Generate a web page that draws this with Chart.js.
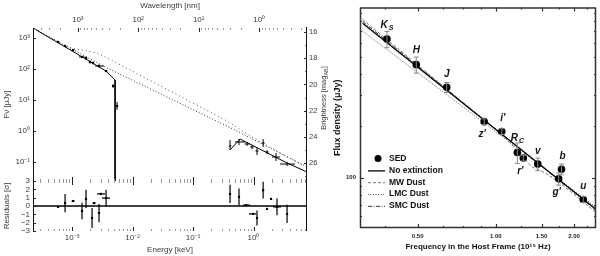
<!DOCTYPE html>
<html><head><meta charset="utf-8">
<script src="https://cdn.jsdelivr.net/npm/chart.js@4.4.1/dist/chart.umd.min.js"></script>
<style>
html,body{margin:0;padding:0;background:#fff;width:600px;height:256px;overflow:hidden;}
.w{position:absolute;top:0;}
</style></head><body>
<div class="w" style="left:0;width:328px;height:256px"><canvas id="cA" width="328" height="256"></canvas></div>
<div class="w" style="left:0;width:328px;height:256px"><canvas id="cB" width="328" height="256"></canvas></div>
<div class="w" style="left:300px;width:300px;height:256px"><canvas id="cC" width="300" height="256"></canvas></div>
<script>
// ---------- Left panel: afterglow SED (energy keV, flux density μJy) ----------
const optEnergy   = [5.87e-4, 7.66e-4, 1.04e-3, 1.46e-3, 1.70e-3, 1.98e-3, 2.22e-3, 2.79e-3, 3.65e-3, 4.76e-3, 5.55e-3];
const optEnergyLo = [5.6e-4, 7.3e-4, 0.99e-3, 1.30e-3, 1.62e-3, 1.89e-3, 2.12e-3, 2.40e-3, 3.48e-3, 4.6e-3, 5.4e-3];
const optEnergyHi = [6.1e-4, 8.0e-4, 1.09e-3, 1.62e-3, 1.78e-3, 2.07e-3, 2.32e-3, 3.38e-3, 3.82e-3, 4.9e-3, 5.7e-3];
const optFlux     = [743, 552, 410, 244, 226, 168, 156, 125, 86, 28.3, 6.4];
const optFluxLo   = [690, 505, 385, 225, 205, 150, 140, 112, 80, 25, 4.8];
const optFluxHi   = [800, 600, 435, 265, 250, 188, 174, 140, 93, 32, 8.6];

const xrEnergy   = [0.409, 0.575, 0.782, 0.944, 1.14, 1.44, 1.67, 2.35, 3.58];
const xrEnergyLo = [0.39, 0.494, 0.711, 0.88, 1.08, 1.36, 1.58, 2.02, 2.74];
const xrEnergyHi = [0.43, 0.724, 0.86, 1.01, 1.21, 1.53, 1.77, 2.73, 4.85];
const xrFlux     = [0.328, 0.442, 0.381, 0.305, 0.226, 0.41, 0.21, 0.145, 0.086];
const xrFluxLo   = [0.245, 0.354, 0.33, 0.26, 0.168, 0.305, 0.18, 0.108, 0.074];
const xrFluxHi   = [0.513, 0.553, 0.44, 0.35, 0.304, 0.55, 0.24, 0.196, 0.10];

const modelOptEnergy = [2.26e-4, 3.65e-3, 5.14e-3, 5.14e-3];
const modelOptFlux   = [2100, 86, 44.2, 0.0244];
const modelXrEnergy  = [0.409, 0.598, 3.58, 7.65];
const modelXrFlux    = [0.244, 0.552, 0.093, 0.0475];
const unabs1Energy   = [2.26e-4, 3.79e-3, 0.533, 7.65];
const unabs1Flux     = [2100, 108, 1.0, 0.069];
const unabs2Energy   = [7.96e-4, 2.59e-3, 4.76e-3, 0.365, 0.944, 6.34];
const unabs2Flux     = [513, 328, 181, 2.1, 0.64, 0.080];

const resOptEnergy   = [5.87e-4, 7.66e-4, 1.04e-3, 1.46e-3, 1.70e-3, 2.14e-3, 2.31e-3, 2.79e-3, 3.0e-3, 3.65e-3];
const resOptEnergyLo = [5.6e-4, 7.4e-4, 0.98e-3, 1.41e-3, 1.64e-3, 2.07e-3, 2.18e-3, 2.70e-3, 2.59e-3, 3.13e-3];
const resOptEnergyHi = [6.1e-4, 7.9e-4, 1.10e-3, 1.51e-3, 1.76e-3, 2.21e-3, 2.45e-3, 2.88e-3, 3.51e-3, 4.25e-3];
const resOpt         = [-0.1, 0.35, 0.6, -0.6, 0.85, -1.45, 0.35, -0.85, 1.45, 0.95];
const resOptErr      = [0.1, 1.1, 0.1, 1.0, 1.1, 1.2, 0.1, 1.1, 0.1, 1.0];

const resXrEnergy   = [0.409, 0.575, 0.752, 0.98, 1.14, 1.44, 1.67, 1.95, 2.44, 3.58];
const resXrEnergyLo = [0.395, 0.555, 0.67, 0.84, 1.10, 1.39, 1.61, 1.88, 2.10, 3.45];
const resXrEnergyHi = [0.424, 0.595, 0.88, 1.10, 1.18, 1.49, 1.73, 2.02, 2.85, 3.71];
const resXr         = [1.45, 1.1, 0.1, -0.95, -1.45, 1.9, -0.35, 0.85, -0.1, -0.95];
const resXrErr      = [1.1, 1.0, 0.1, 0.1, 0.9, 1.0, 0.1, 0.1, 1.0, 1.1];

const energyTicks = [1e-3, 1e-2, 1e-1, 1];
const energyTickLabels = ['10\u207B\u00B3', '10\u207B\u00B2', '10\u207B\u00B9', '10\u2070'];
const wlTicks = [1000, 100, 10, 1];
const wlTickLabels = ['10\u00B3', '10\u00B2', '10\u00B9', '10\u2070'];
const fluxTicks = [0.1, 1, 10, 100, 1000];
const fluxTickLabels = ['10\u207B\u00B9', '10\u2070', '10\u00B9', '10\u00B2', '10\u00B3'];
const magTicks = [16, 18, 20, 22, 24, 26];
const magMinor = [17, 19, 21, 23, 25, 27];
const resTicks = [-3, -2, -1, 0, 1, 2, 3];
const resTickLabels = ['\u22123', '\u22122', '\u22121', '0', '1', '2', '3'];
const zeroLineEnergy = [2.26e-4, 7.65];
const zeroLineRes = [0, 0];

// ---------- Right panel: host-frame SED ----------
const bandNames = ["K", "H", "J", "z'", "i'", "R", "r'", "v", "b", "g'", "u"];
const bandSubs  = ["S", "", "", "", "", "C", "", "", "", "", ""];
const sedFreq = [0.381, 0.494, 0.647, 0.902, 1.054, 1.21, 1.276, 1.45, 1.79, 1.745, 2.17];
const sedFlux = [632, 450, 333, 211, 185, 140, 130, 120, 112, 98.7, 75];
const sedErr  = [68, 48, 22, 8, 7, 19, 5, 10, 8, 8, 3];
const noExtFreq = [0.307, 2.43];
const noExtFlux = [780, 65.8];
const mwFreq = [0.307, 1.081, 1.232, 1.379, 1.544, 1.744, 2.426];
const mwFlux = [822, 172, 139, 115.5, 106.8, 94.9, 63.3];
const lmcFreq = [0.307, 2.43];
const lmcFlux = [703, 67.5];
const smcFreq = [0.307, 2.43];
const smcFlux = [800, 64.9];
const freqTicks = [0.5, 1.0, 1.5, 2.0];
const freqTickLabels = ['0.50', '1.00', '1.50', '2.00'];
const freqMinor = [0.375, 0.625, 0.75, 0.875, 1.25, 1.75, 2.25];
const sedFluxTicks = [100];
const sedFluxTickLabels = ['100'];
const sedFluxMinor = [60, 70, 80, 90, 200, 300, 400, 500, 600, 700, 800, 900];

// ---------- layout / style (not data) ----------
const bandLabelOffsets = [[0,-14],[0,-14],[0,-13],[-2,13],[1,-13],[0,-14],[-3,13],[0,-13],[1,-13],[-2,13],[0,-13]];
const HC = 1.2398; // keV·nm
const E_MIN = 2.26e-4, E_MAX = 7.65;
const FONT = "'Liberation Sans', Arial, sans-serif";
const NARROW = "'Liberation Sans Narrow', 'Liberation Sans', Arial, sans-serif";
const LC = '#3a3a3a';

function pts(xs, ys) { return xs.map((x, i) => ({ x: x, y: ys[i] })); }
function logMinors(lo, hi) {
  const out = [];
  for (let k = Math.floor(Math.log10(lo)) - 1; k <= Math.ceil(Math.log10(hi)); k++) {
    for (let m = 2; m <= 9; m++) { const v = m * Math.pow(10, k); if (v > lo && v < hi) out.push(v); }
  }
  return out;
}

const errorBars = {
  id: 'errorBars',
  afterDatasetsDraw(chart) {
    const ctx = chart.ctx;
    chart.data.datasets.forEach((ds, di) => {
      const e = ds.err; if (!e) return;
      const meta = chart.getDatasetMeta(di);
      const xs = chart.scales[meta.xAxisID], ys = chart.scales[meta.yAxisID];
      ctx.save(); ctx.strokeStyle = e.color; ctx.lineWidth = e.width;
      ds.data.forEach((p, i) => {
        const px = xs.getPixelForValue(p.x), py = ys.getPixelForValue(p.y);
        ctx.beginPath();
        if (e.yLo && e.yLo[i] != null) {
          const a = ys.getPixelForValue(e.yLo[i]), b = ys.getPixelForValue(e.yHi[i]);
          ctx.moveTo(px, a); ctx.lineTo(px, b);
          if (e.cap) { ctx.moveTo(px - e.cap, a); ctx.lineTo(px + e.cap, a); ctx.moveTo(px - e.cap, b); ctx.lineTo(px + e.cap, b); }
        }
        if (e.xLo && e.xLo[i] != null) {
          const a = xs.getPixelForValue(e.xLo[i]), b = xs.getPixelForValue(e.xHi[i]);
          ctx.moveTo(a, py); ctx.lineTo(b, py);
        }
        ctx.stroke();
      });
      ctx.restore();
    });
  }
};

const innerTicks = {
  id: 'innerTicks',
  afterDraw(chart, args, opts) {
    const ctx = chart.ctx, ca = chart.chartArea;
    (opts.items || []).forEach(it => {
      const s = chart.scales[it.scale];
      const draw = (vals, len, color) => {
        ctx.save(); ctx.strokeStyle = color; ctx.lineWidth = it.width || 1;
        ctx.beginPath();
        vals.forEach(v => {
          let p = s.getPixelForValue(v);
          if (it.edge === 'bottom' || it.edge === 'top') {
            if (p < ca.left - 0.5 || p > ca.right + 0.5) return;
            p = Math.round(p) + 0.5;
            const y0 = it.edge === 'bottom' ? ca.bottom : ca.top;
            const dir = it.edge === 'bottom' ? -1 : 1;
            ctx.moveTo(p, y0); ctx.lineTo(p, y0 + dir * len);
          } else {
            if (p < ca.top - 0.5 || p > ca.bottom + 0.5) return;
            p = Math.round(p) + 0.5;
            const x0 = it.edge === 'left' ? ca.left : ca.right;
            const dir = it.edge === 'left' ? 1 : -1;
            ctx.moveTo(x0, p); ctx.lineTo(x0 + dir * len, p);
          }
        });
        ctx.stroke(); ctx.restore();
      };
      draw(it.major || [], it.majorLen || 4, it.color || '#000');
      draw(it.minor || [], it.minorLen || 2, it.minorColor || it.color || '#000');
    });
  }
};

const frame = {
  id: 'frame',
  afterDraw(chart, args, opts) {
    const ctx = chart.ctx, ca = chart.chartArea;
    ctx.save(); ctx.strokeStyle = opts.color || '#000'; ctx.lineWidth = opts.width || 1;
    ctx.beginPath();
    (opts.sides || []).forEach(sd => {
      if (sd === 'left') { ctx.moveTo(ca.left + 0.5, ca.top); ctx.lineTo(ca.left + 0.5, ca.bottom); }
      if (sd === 'right') { ctx.moveTo(ca.right - 0.5, ca.top - (opts.extendTop || 0)); ctx.lineTo(ca.right - 0.5, ca.bottom); }
      if (sd === 'top') { ctx.moveTo(ca.left, ca.top + 0.5); ctx.lineTo(ca.right, ca.top + 0.5); }
      if (sd === 'bottom') { ctx.moveTo(ca.left, ca.bottom - 0.5); ctx.lineTo(ca.right, ca.bottom - 0.5); }
    });
    ctx.stroke(); ctx.restore();
  }
};

// rotated title made of text parts (supports a subscript part)
const freeText = {
  id: 'freeText',
  afterDraw(chart, args, opts) {
    const ctx = chart.ctx;
    (opts.items || []).forEach(t => {
      ctx.save(); ctx.translate(t.x, t.y); ctx.rotate(t.rot || 0);
      ctx.fillStyle = t.color; ctx.textAlign = 'left'; ctx.textBaseline = 'middle';
      let total = 0;
      t.parts.forEach(p => { ctx.font = (p.sub ? t.subSize : t.size) + 'px ' + FONT; total += ctx.measureText(p.text).width; });
      let x = -total / 2;
      t.parts.forEach(p => {
        ctx.font = (p.sub ? t.subSize : t.size) + 'px ' + FONT;
        ctx.fillText(p.text, x, p.sub ? 2 : 0);
        x += ctx.measureText(p.text).width;
      });
      ctx.restore();
    });
  }
};

const bandLabels = {
  id: 'bandLabels',
  afterDatasetsDraw(chart) {
    const ctx = chart.ctx, xs = chart.scales.x, ys = chart.scales.y;
    ctx.save(); ctx.fillStyle = '#111'; ctx.textBaseline = 'middle';
    bandNames.forEach((nm, i) => {
      const o = bandLabelOffsets[i];
      const px = xs.getPixelForValue(sedFreq[i]) + o[0], py = ys.getPixelForValue(sedFlux[i]) + o[1];
      ctx.font = "italic bold 10px " + FONT;
      const w1 = ctx.measureText(nm).width;
      ctx.font = "italic bold 7px " + FONT;
      const w2 = bandSubs[i] ? ctx.measureText(bandSubs[i]).width + 1 : 0;
      const x0 = px - (w1 + w2) / 2;
      ctx.font = "italic bold 10px " + FONT; ctx.textAlign = 'left';
      ctx.fillText(nm, x0, py);
      if (bandSubs[i]) { ctx.font = "italic bold 7px " + FONT; ctx.fillText(bandSubs[i], x0 + w1 + 1, py + 3); }
    });
    ctx.restore();
  }
};

const sedLegend = {
  id: 'sedLegend',
  afterDraw(chart, args, opts) {
    const ctx = chart.ctx, ca = chart.chartArea;
    const x0 = ca.left + opts.dx, y0 = ca.top + opts.dy;
    ctx.save();
    chart.data.datasets.forEach((ds, i) => {
      const y = y0 + i * opts.row;
      if (i === 0) {
        ctx.fillStyle = '#000'; ctx.beginPath(); ctx.arc(x0, y, 3.5, 0, Math.PI * 2); ctx.fill();
      } else {
        ctx.strokeStyle = ds.borderColor; ctx.lineWidth = ds.borderWidth; ctx.setLineDash(ds.borderDash || []);
        ctx.beginPath(); ctx.moveTo(x0 - 10, y + 0.5); ctx.lineTo(x0 + 7, y + 0.5); ctx.stroke(); ctx.setLineDash([]);
      }
      ctx.fillStyle = '#111'; ctx.font = "bold 8.5px " + NARROW; ctx.textAlign = 'left'; ctx.textBaseline = 'middle';
      ctx.fillText(ds.label, x0 + 11, y);
    });
    ctx.restore();
  }
};

const leftTickFont = { family: FONT, size: 8 };

// ---- Chart A: main panel ----
new Chart(document.getElementById('cA'), {
  type: 'scatter',
  data: { datasets: [
    { label: 'Model (optical)', data: pts(modelOptEnergy, modelOptFlux), showLine: true, borderColor: '#000', borderWidth: 1, pointRadius: 0 },
    { label: 'Model (X-ray)', data: pts(modelXrEnergy, modelXrFlux), showLine: true, borderColor: '#000', borderWidth: 1, pointRadius: 0 },
    { label: 'Unabsorbed 1', data: pts(unabs1Energy, unabs1Flux), showLine: true, borderColor: '#333', borderWidth: 1, borderDash: [1, 2], pointRadius: 0 },
    { label: 'Unabsorbed 2', data: pts(unabs2Energy, unabs2Flux), showLine: true, borderColor: '#555', borderWidth: 1, borderDash: [1, 3], pointRadius: 0 },
    { label: 'Optical/NIR', data: pts(optEnergy, optFlux), pointStyle: 'rect', pointRadius: 1.5, backgroundColor: '#000', borderWidth: 0,
      err: { xLo: optEnergyLo, xHi: optEnergyHi, yLo: optFluxLo, yHi: optFluxHi, color: '#000', width: 1 } },
    { label: 'X-ray', data: pts(xrEnergy, xrFlux), pointRadius: 0,
      err: { xLo: xrEnergyLo, xHi: xrEnergyHi, yLo: xrFluxLo, yHi: xrFluxHi, color: '#000', width: 1 } }
  ]},
  options: {
    responsive: false, animation: false, events: [],
    layout: { padding: 0 },
    plugins: {
      legend: { display: false }, tooltip: { enabled: false },
      innerTicks: { items: [
        { scale: 'xTop', edge: 'top', major: wlTicks, minor: logMinors(HC / E_MAX, HC / E_MIN), majorLen: 4, minorLen: 2, color: '#222', minorColor: '#999' },
        { scale: 'x', edge: 'bottom', major: energyTicks, minor: logMinors(E_MIN, E_MAX), majorLen: 4, minorLen: 2, color: '#222', minorColor: '#999' },
        { scale: 'y', edge: 'left', major: fluxTicks, minor: [], majorLen: 3, color: '#222' },
        { scale: 'yMag', edge: 'right', major: magTicks, minor: magMinor, majorLen: 3, minorLen: 2, color: '#222', minorColor: '#777' }
      ]},
      frame: { sides: ['left', 'right'], color: '#111', width: 1, extendTop: 1 },
      freeText: { items: [ { parts: [ { text: 'Brightness [mag' }, { text: 'AB', sub: true }, { text: ']' } ],
        x: 324, y: 98, rot: -Math.PI / 2, size: 7.5, subSize: 5.5, color: LC } ] }
    },
    scales: {
      x: { type: 'logarithmic', position: 'bottom', min: E_MIN, max: E_MAX,
        ticks: { display: false }, grid: { display: false }, border: { display: false },
        afterFit: s => { s.height = 75; } },
      xTop: { type: 'logarithmic', position: 'top', min: HC / E_MAX, max: HC / E_MIN, reverse: true,
        grid: { display: false, drawTicks: false }, border: { display: false },
        afterBuildTicks: s => { s.ticks = wlTicks.map(v => ({ value: v })); },
        ticks: { callback: (v, i) => wlTickLabels[i], font: leftTickFont, color: LC, padding: 3, maxRotation: 0, autoSkip: false },
        title: { display: true, text: 'Wavelength [nm]', font: { family: FONT, size: 8 }, color: LC, padding: { top: 1, bottom: 0 } },
        afterFit: s => { s.height = 28; } },
      y: { type: 'logarithmic', position: 'left', min: 0.0244, max: 2100,
        grid: { display: false, drawTicks: false }, border: { display: false },
        afterBuildTicks: s => { s.ticks = fluxTicks.map(v => ({ value: v })); },
        ticks: { callback: (v, i) => fluxTickLabels[i], font: leftTickFont, color: LC, padding: 3, autoSkip: false },
        title: { display: true, text: 'F\u03BD [\u03BCJy]', font: { family: FONT, size: 8 }, color: LC, padding: { top: 2, bottom: 0 } },
        afterFit: s => { s.width = 33; } },
      yMag: { type: 'linear', position: 'right', min: 15.69, max: 27.37, reverse: true,
        grid: { display: false, drawTicks: false }, border: { display: false },
        afterBuildTicks: s => { s.ticks = magTicks.map(v => ({ value: v })); },
        ticks: { callback: v => String(v), font: { family: FONT, size: 7.5 }, color: LC, padding: 2, autoSkip: false },
        afterFit: s => { s.width = 21; } }
    }
  },
  plugins: [errorBars, innerTicks, frame, freeText]
});

// ---- Chart B: residuals ----
new Chart(document.getElementById('cB'), {
  type: 'scatter',
  data: { datasets: [
    { label: 'zero', data: pts(zeroLineEnergy, zeroLineRes), showLine: true, borderColor: '#000', borderWidth: 1.4, pointRadius: 0 },
    { label: 'Optical residuals', data: pts(resOptEnergy, resOpt), pointStyle: 'rect', pointRadius: 1.5, backgroundColor: '#000', borderWidth: 0,
      err: { xLo: resOptEnergyLo, xHi: resOptEnergyHi, yLo: resOpt.map((r, i) => r - resOptErr[i]), yHi: resOpt.map((r, i) => r + resOptErr[i]), color: '#000', width: 1.2 } },
    { label: 'X-ray residuals', data: pts(resXrEnergy, resXr), pointStyle: 'rect', pointRadius: 1.5, backgroundColor: '#000', borderWidth: 0,
      err: { xLo: resXrEnergyLo, xHi: resXrEnergyHi, yLo: resXr.map((r, i) => r - resXrErr[i]), yHi: resXr.map((r, i) => r + resXrErr[i]), color: '#000', width: 1.2 } }
  ]},
  options: {
    responsive: false, animation: false, events: [],
    layout: { padding: { top: 181, right: 21, left: 0, bottom: 0 } },
    plugins: {
      legend: { display: false }, tooltip: { enabled: false },
      innerTicks: { items: [
        { scale: 'x', edge: 'bottom', major: energyTicks, minor: logMinors(E_MIN, E_MAX), majorLen: 4, minorLen: 2, color: '#222', minorColor: '#999' },
        { scale: 'x', edge: 'top', major: energyTicks, minor: logMinors(E_MIN, E_MAX), majorLen: 4, minorLen: 2, color: '#222', minorColor: '#999' },
        { scale: 'y', edge: 'left', major: resTicks, minor: [], majorLen: 3, color: '#222' }
      ]},
      frame: { sides: ['left', 'right'], color: '#111', width: 1 }
    },
    scales: {
      x: { type: 'logarithmic', position: 'bottom', min: E_MIN, max: E_MAX,
        grid: { display: false, drawTicks: false }, border: { display: false },
        afterBuildTicks: s => { s.ticks = energyTicks.map(v => ({ value: v })); },
        ticks: { callback: (v, i) => energyTickLabels[i], font: leftTickFont, color: LC, padding: 2, maxRotation: 0, autoSkip: false },
        title: { display: true, text: 'Energy [keV]', font: { family: FONT, size: 8 }, color: LC, padding: { top: 0, bottom: 1 } },
        afterFit: s => { s.height = 25; } },
      y: { type: 'linear', position: 'left', min: -3, max: 3,
        grid: { display: false, drawTicks: false }, border: { display: false },
        afterBuildTicks: s => { s.ticks = resTicks.map(v => ({ value: v })); },
        ticks: { callback: (v, i) => resTickLabels[i], font: leftTickFont, color: LC, padding: 3, autoSkip: false },
        title: { display: true, text: 'Residuals [\u03C3]', font: { family: FONT, size: 8 }, color: LC, padding: { top: 2, bottom: 0 } },
        afterFit: s => { s.width = 33; } }
    }
  },
  plugins: [errorBars, innerTicks, frame]
});

// ---- Chart C: host-frame SED ----
new Chart(document.getElementById('cC'), {
  type: 'scatter',
  data: { datasets: [
    { label: 'SED', data: pts(sedFreq, sedFlux), pointRadius: 3.8, backgroundColor: '#000', borderWidth: 0,
      err: { yLo: sedFlux.map((f, i) => f - sedErr[i]), yHi: sedFlux.map((f, i) => f + sedErr[i]), color: '#8a8a8a', width: 1, cap: 2.5 } },
    { label: 'No extinction', data: pts(noExtFreq, noExtFlux), showLine: true, borderColor: '#000', borderWidth: 1.3, pointRadius: 0 },
    { label: 'MW Dust', data: pts(mwFreq, mwFlux), showLine: true, borderColor: '#777', borderWidth: 1, borderDash: [3, 2], pointRadius: 0 },
    { label: 'LMC Dust', data: pts(lmcFreq, lmcFlux), showLine: true, borderColor: '#555', borderWidth: 1, borderDash: [1, 1.5], pointRadius: 0 },
    { label: 'SMC Dust', data: pts(smcFreq, smcFlux), showLine: true, borderColor: '#333', borderWidth: 1, borderDash: [4, 1.5, 1, 1.5], pointRadius: 0 }
  ]},
  options: {
    responsive: false, animation: false, events: [],
    layout: { padding: { top: 4, right: 2, left: 0, bottom: 0 } },
    plugins: {
      legend: { display: false }, tooltip: { enabled: false },
      innerTicks: { items: [
        { scale: 'x', edge: 'bottom', major: freqTicks, minor: freqMinor, majorLen: 4, minorLen: 2, color: '#333', width: 1.2 },
        { scale: 'x', edge: 'top', major: freqTicks, minor: freqMinor, majorLen: 4, minorLen: 2, color: '#333', width: 1.2 },
        { scale: 'y', edge: 'left', major: sedFluxTicks, minor: sedFluxMinor, majorLen: 4, minorLen: 2, color: '#333', width: 1.2 },
        { scale: 'y', edge: 'right', major: sedFluxTicks, minor: sedFluxMinor, majorLen: 4, minorLen: 2, color: '#333', width: 1.2 }
      ]},
      frame: { sides: ['left', 'right', 'top', 'bottom'], color: '#333', width: 1.5 },
      sedLegend: { dx: 18, dy: 151, row: 11.8 }
    },
    scales: {
      x: { type: 'logarithmic', position: 'bottom', min: 0.307, max: 2.43,
        grid: { display: false, drawTicks: false }, border: { display: false },
        afterBuildTicks: s => { s.ticks = freqTicks.map(v => ({ value: v })); },
        ticks: { callback: (v, i) => freqTickLabels[i], font: { family: FONT, size: 6, weight: 'bold' }, color: '#222', padding: 5, maxRotation: 0, autoSkip: false },
        title: { display: true, text: 'Frequency in the Host Frame (10\u00B9\u2075 Hz)', font: { family: NARROW, size: 8, weight: 'bold' }, color: '#111', padding: { top: 0, bottom: 4 } },
        afterFit: s => { s.height = 28; } },
      y: { type: 'logarithmic', position: 'left', min: 51.3, max: 961,
        grid: { display: false, drawTicks: false }, border: { display: false },
        afterBuildTicks: s => { s.ticks = sedFluxTicks.map(v => ({ value: v })); },
        ticks: { callback: (v, i) => sedFluxTickLabels[i], font: { family: FONT, size: 6, weight: 'bold' }, color: '#222', padding: 4, autoSkip: false },
        title: { display: true, text: 'Flux density (\u03BCJy)', font: { family: FONT, size: 9, weight: 'bold' }, color: '#111', padding: { top: 32, bottom: 0 } },
        afterFit: s => { s.width = 60; } }
    }
  },
  plugins: [errorBars, innerTicks, frame, bandLabels, sedLegend]
});
</script>
</body></html>
